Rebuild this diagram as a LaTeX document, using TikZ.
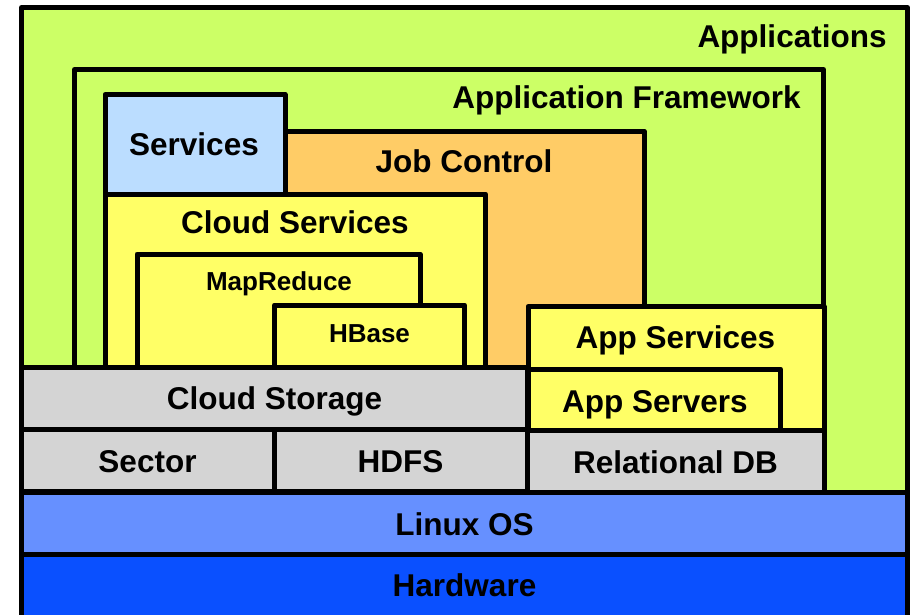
\documentclass[tikz,border=0pt]{standalone}
\usepackage{fontspec}
\setmainfont{Liberation Sans}
\definecolor{appgreen}{HTML}{CCFF66}
\definecolor{svcblue}{HTML}{BBDDFF}
\definecolor{jobor}{HTML}{FFCC66}
\definecolor{cloudyel}{HTML}{FFFF66}
\definecolor{storgray}{HTML}{D4D4D4}
\definecolor{osblue}{HTML}{6690FF}
\definecolor{hwblue}{HTML}{0A50FF}
\tikzset{
  layer/.style={draw=black, line width=5pt, line join=round},
  big/.style={font=\bfseries\fontsize{31.5}{34}\selectfont, anchor=base, inner sep=0pt},
  small/.style={font=\bfseries\fontsize{26}{28}\selectfont, anchor=base, inner sep=0pt},
}
\begin{document}
\begin{tikzpicture}[x=1pt, y=-1pt]
\useasboundingbox (0,0) rectangle (910,614);

% application layers
\path[layer, fill=appgreen] (21.5,7.5) rectangle (907.5,492.5);
\path[layer, fill=appgreen] (74.5,69.5) rectangle (823.5,367);
\path[layer, fill=jobor] (285,131) rectangle (644,367);
\path[layer, fill=svcblue] (105,94.5) rectangle (285,194);
\path[layer, fill=cloudyel] (105,194) rectangle (485.5,367);
\path[layer, fill=cloudyel] (137,254) rectangle (420,367);
\path[layer, fill=cloudyel] (274.5,305) rectangle (464.5,367);
\path[layer, fill=cloudyel] (528,306.5) rectangle (824,430);
\path[layer, fill=cloudyel] (528,369) rectangle (780.5,430);

% storage layers
\path[layer, fill=storgray] (21.5,367) rectangle (527.5,429.5);
\path[layer, fill=storgray] (21.5,429.5) rectangle (274.5,491);
\path[layer, fill=storgray] (274.5,429.5) rectangle (527.5,491);
\path[layer, fill=storgray] (527.5,430) rectangle (824.5,492);

% system layers
\path[layer, fill=osblue] (21.5,492.5) rectangle (907.5,554.5);
\path[layer, fill=hwblue] (21.5,554.5) rectangle (907.5,625);

% labels
\node[big] (apps) at (792,47) {Applications};
\node[big] (fw) at (626.5,108.5) {Application Framework};
\node[big] (svc) at (194,155) {Services};
\node[big] (job) at (464,172) {Job Control};
\node[big] (cloudsvc) at (295,233.5) {Cloud Services};
\node[small] (mr) at (279,290) {MapReduce};
\node[small] (hb) at (369.5,342) {HBase};
\node[big] (appsvc) at (675.5,348) {App Services};
\node[big] (appsrv) at (655,412) {App Servers};
\node[big] (cstor) at (274.5,409) {Cloud Storage};
\node[big] (sector) at (147.5,472) {Sector};
\node[big] (hdfs) at (400.5,472) {HDFS};
\node[big] (rdb) at (675.5,473) {Relational DB};
\node[big] (os) at (464.5,535) {Linux OS};
\node[big] (hw) at (464.5,596.5) {Hardware};
\end{tikzpicture}
\end{document}
